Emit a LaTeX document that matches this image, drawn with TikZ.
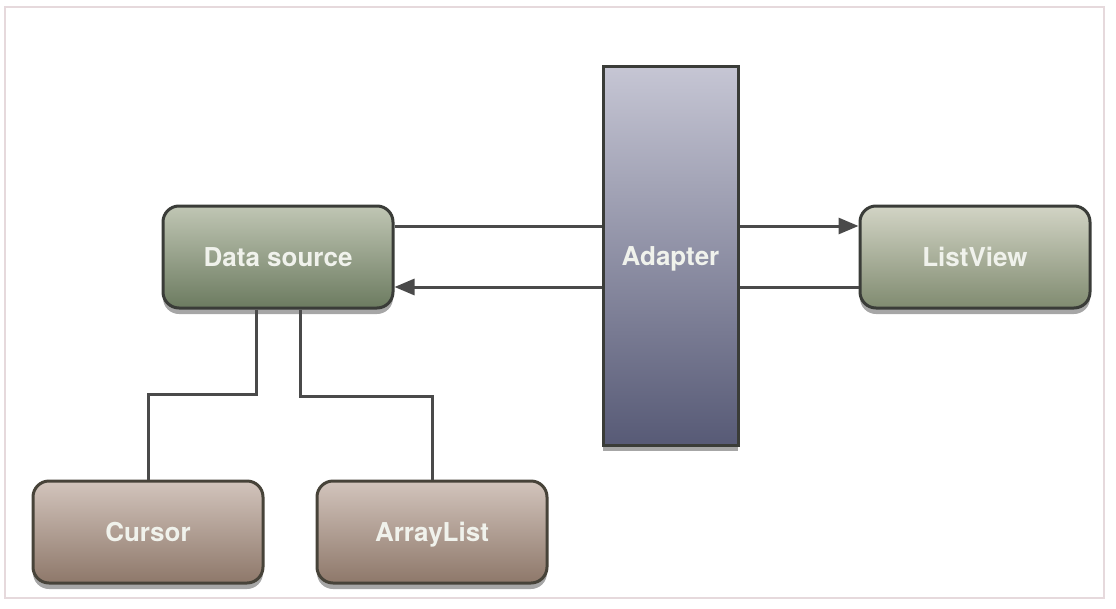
\documentclass[tikz,border=0pt]{standalone}
\usepackage{fontspec}
\setmainfont{TeX Gyre Heros}
\usetikzlibrary{arrows.meta,shadows}
\definecolor{frame}{HTML}{E6D9DC}
\definecolor{conn}{HTML}{4A4A4A}
\definecolor{gtop}{HTML}{C0C6B4}
\definecolor{gbot}{HTML}{6C7B60}
\definecolor{ltop}{HTML}{D2D4C5}
\definecolor{lbot}{HTML}{808B70}
\definecolor{atop}{HTML}{C6C6D4}
\definecolor{abot}{HTML}{575A76}
\definecolor{btop}{HTML}{D2C4BC}
\definecolor{bbot}{HTML}{8E786A}
\definecolor{bord}{HTML}{3A3C38}
\definecolor{txt}{HTML}{F0F2EC}
\tikzset{
  lbl/.style={text=txt, font=\fontsize{26}{30}\selectfont\bfseries,
    text height=19pt, text depth=0pt},
  box/.style={draw=bord, line width=3pt, rounded corners=16pt,
    minimum width=230pt, minimum height=102pt, inner sep=0pt, lbl,
    drop shadow={shadow xshift=0pt, shadow yshift=-6pt, opacity=0.35, fill=black}},
  greenbox/.style={box, top color=gtop, bottom color=gbot},
  lvbox/.style={box, top color=ltop, bottom color=lbot},
  brownbox/.style={box, top color=btop, bottom color=bbot, draw=bord!90!brown},
  adbox/.style={draw=bord, line width=3pt, minimum width=135pt, minimum height=379pt,
    inner sep=0pt, top color=atop, bottom color=abot, lbl,
    drop shadow={shadow xshift=0pt, shadow yshift=-6pt, opacity=0.35, fill=black}},
  conn/.style={draw=conn, line width=3pt},
  arr/.style={conn, -{Triangle[length=20pt,width=16pt]}}
}
\begin{document}
\begin{tikzpicture}[x=1pt,y=-1pt]
\useasboundingbox (0,0) rectangle (1116,608);
\fill[white] (0,0) rectangle (1116,608);
\draw[frame, line width=2pt] (5,7) rectangle (1104,598);
\node[greenbox] (ds) at (278,257) {Data source};
\node[adbox] (ad) at (670.5,255.5) {Adapter};
\node[lvbox] (lv) at (975,257) {ListView};
\node[brownbox] (cu) at (148,532) {Cursor};
\node[brownbox] (al) at (432,532) {ArrayList};
\coordinate (h1) at (0,226);
\coordinate (h2) at (0,287);
\draw[conn] (ds.east |- h1) -- (ad.west |- h1);
\draw[arr] (ad.east |- h1) -- (lv.west |- h1);
\draw[arr] (ad.west |- h2) -- (ds.east |- h2);
\draw[conn] (lv.west |- h2) -- (ad.east |- h2);
\draw[conn] ([xshift=-22pt]ds.south) -- ++(0,85) -| (cu.north);
\draw[conn] ([xshift=22pt]ds.south) -- ++(0,87) -| (al.north);
\end{tikzpicture}
\end{document}
